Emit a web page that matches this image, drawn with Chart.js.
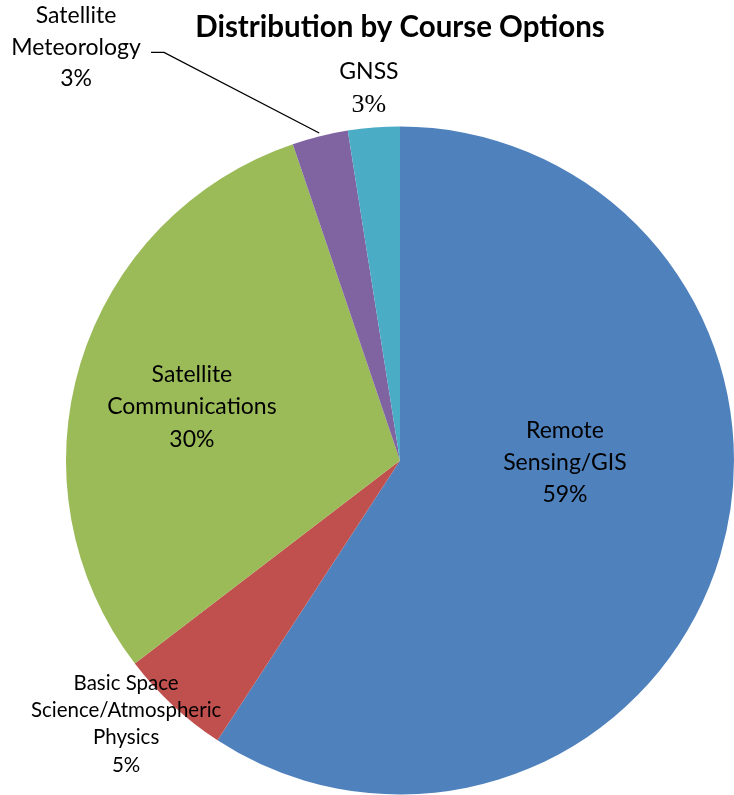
<!DOCTYPE html>
<html>
<head>
<meta charset="utf-8">
<script src="https://cdn.jsdelivr.net/npm/chart.js@4/dist/chart.umd.min.js"></script>
<style>
html,body{margin:0;padding:0;background:#fff;}
canvas{display:block;}
</style>
</head>
<body>
<canvas id="c" width="734" height="795"></canvas>
<script>
const title = "Distribution by Course Options";
const categories = ["Remote Sensing/GIS", "Basic Space Science/Atmospheric Physics", "Satellite Communications", "Satellite Meteorology", "GNSS"];
const labelLines = [["Remote", "Sensing/GIS"], ["Basic Space", "Science/Atmospheric", "Physics"], ["Satellite", "Communications"], ["Satellite", "Meteorology"], ["GNSS"]];
const shares = [59.2, 5.4, 30.2, 2.7, 2.5];
const shownPercents = ["59%", "5%", "30%", "3%", "3%"];
const colors = ["#4F81BD", "#C0504D", "#9BBB59", "#8064A2", "#4BACC6"];

const FONT = "Lato, Calibri, 'Open Sans', sans-serif";
// label placement relative to pie centre, in units of the radius
const labelPlace = [
  {fx: 0.494, fy: 0.007, size: 23, gap: 32},
  {fx: -0.82, fy: 0.789, size: 20.5, gap: 27.3},
  {fx: -0.623, fy: -0.16, size: 23, gap: 32.5},
  {fx: -0.97, fy: -1.237, size: 23, gap: 31.5, leader: true},
  {fx: -0.093, fy: -1.114, size: 23, gap: 33, serifPct: 26}
];

const labelPlugin = {
  id: 'labels',
  afterDraw(chart) {
    const ctx = chart.ctx;
    const meta = chart.getDatasetMeta(0);
    ctx.save();
    ctx.fillStyle = '#000';
    ctx.textAlign = 'center';
    ctx.textBaseline = 'middle';
    ctx.font = "bold 29.5px " + FONT;
    ctx.fillText(title, 400, 27);
    meta.data.forEach((arc, i) => {
      const p = arc.getProps(['x', 'y', 'outerRadius', 'startAngle', 'endAngle'], true);
      const R = p.outerRadius;
      const lp = labelPlace[i];
      const cx = p.x + lp.fx * R, cy = p.y + lp.fy * R;
      const lines = labelLines[i].concat([shownPercents[i]]);
      const n = lines.length;
      lines.forEach((t, k) => {
        const isPct = k === n - 1;
        ctx.font = (isPct && lp.serifPct ? lp.serifPct + "px 'Liberation Serif', serif" : lp.size + "px " + FONT);
        ctx.fillText(t, cx, cy + (k - (n - 1) / 2) * lp.gap);
      });
      if (lp.leader) {
        const mid = (p.startAngle + p.endAngle) / 2;
        const ex = p.x + Math.cos(mid) * R * 1.01, ey = p.y + Math.sin(mid) * R * 1.01;
        ctx.beginPath();
        ctx.strokeStyle = '#000';
        ctx.lineWidth = 1.3;
        const sy = cy + 5;
        ctx.moveTo(cx + 75, sy);
        ctx.lineTo(cx + 88, sy);
        ctx.lineTo(ex, ey);
        ctx.stroke();
      }
    });
    ctx.restore();
  }
};

new Chart(document.getElementById('c'), {
  type: 'pie',
  data: {
    labels: categories,
    datasets: [{
      data: shares,
      backgroundColor: colors,
      borderWidth: 0
    }]
  },
  options: {
    responsive: false,
    animation: false,
    layout: {padding: {left: 66, right: 0, top: 126, bottom: 0}},
    plugins: {legend: {display: false}, tooltip: {enabled: false}, title: {display: false}}
  },
  plugins: [labelPlugin]
});
</script>
</body>
</html>
